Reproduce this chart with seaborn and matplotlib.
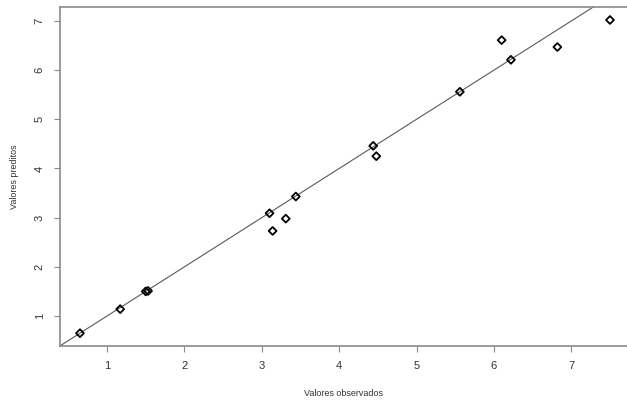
import matplotlib
matplotlib.use("Agg")
import matplotlib.pyplot as plt
import seaborn as sns

observed = [0.65, 1.17, 1.50, 1.53, 3.10, 3.14, 3.31, 3.44, 4.44, 4.48, 5.56, 6.10, 6.22, 6.82, 7.50]
predicted = [0.65, 1.14, 1.50, 1.51, 3.09, 2.73, 2.98, 3.43, 4.46, 4.25, 5.56, 6.61, 6.21, 6.47, 7.02]
x_ticks = [1, 2, 3, 4, 5, 6, 7]
y_ticks = [1, 2, 3, 4, 5, 6, 7]

sns.set_theme(style="white")
plt.rcParams["font.family"] = ["Liberation Sans", "DejaVu Sans"]

fig = plt.figure(figsize=(6.27, 4.01), dpi=100)
ax = fig.add_axes([60 / 627, 55 / 401, 567 / 627, 339 / 401])

ax.axline((0, 0), slope=1, color="#5a5a5a", linewidth=0.8, zorder=1)
sns.scatterplot(x=observed, y=predicted, marker="D", s=16, color="black",
                edgecolor="black", linewidth=1.3, ax=ax, zorder=2)
for coll in ax.collections:
    coll.set_facecolor("none")

ax.set_xlim(0.392, 7.72)
ax.set_ylim(0.39, 7.284)
ax.set_xticks(x_ticks)
ax.set_yticks(y_ticks)
ax.set_xticklabels([str(t) for t in x_ticks])
ax.set_yticklabels([str(t) for t in y_ticks], rotation=90, va="center")

for side in ["left", "bottom", "top"]:
    ax.spines[side].set_color("#8a8a8a")
    ax.spines[side].set_linewidth(1.2)
ax.spines["right"].set_visible(False)

ax.tick_params(axis="both", which="major", direction="out", length=4.5, width=0.8,
               color="#8a8a8a", labelcolor="#333333", labelsize=8, pad=6.5,
               bottom=True, left=True)

ax.set_xlabel("Valores observados", fontsize=6.5, color="#333333", labelpad=12.5)
ax.set_ylabel("Valores preditos", fontsize=6.5, color="#333333", labelpad=11)

fig.savefig("out.png", dpi=100)
